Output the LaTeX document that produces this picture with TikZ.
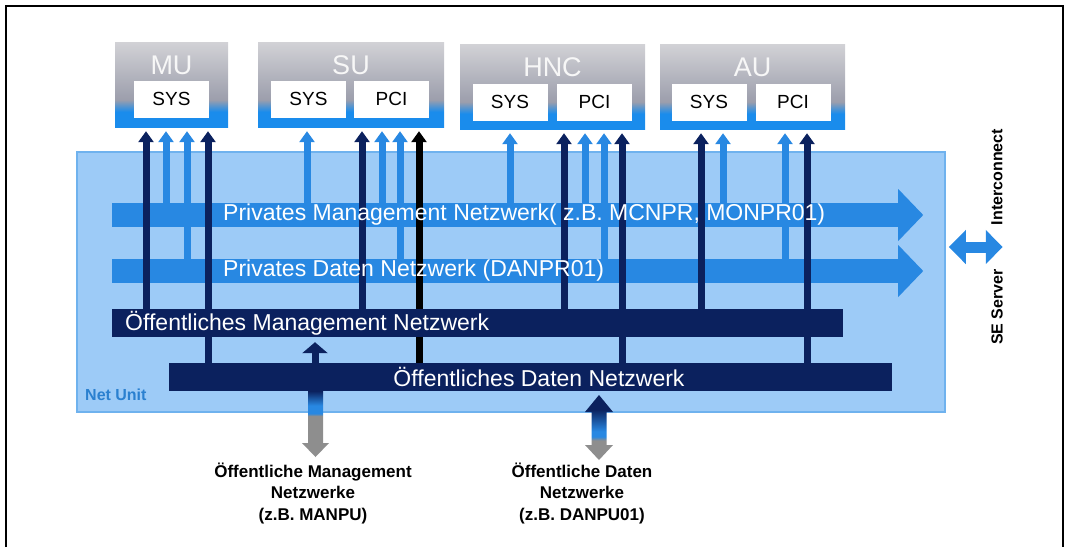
\documentclass[tikz,border=0pt]{standalone}
\usepackage{fontspec}
\setmainfont{Liberation Sans}
\usetikzlibrary{arrows.meta}

\definecolor{netfill}{HTML}{9DCBF7}
\definecolor{netline}{HTML}{6FB2EE}
\definecolor{bandblue}{HTML}{2888E2}
\definecolor{navy}{HTML}{0B215E}
\definecolor{unitblue}{HTML}{1A8CEC}
\definecolor{unitgray}{HTML}{9C9EAC}
\definecolor{unitlight}{HTML}{D2D2D6}
\definecolor{dropgray}{HTML}{8E8E8E}
\definecolor{labelblue}{HTML}{2A80D0}

\pgfdeclareverticalshading{unitshade}{100bp}{color(0bp)=(unitblue); color(34bp)=(unitblue); color(41bp)=(unitgray); color(75bp)=(unitlight); color(100bp)=(unitlight)}
\pgfdeclareverticalshading{mgmtdrop}{100bp}{color(0bp)=(dropgray); color(56bp)=(dropgray); color(58bp)=(bandblue); color(64bp)=(bandblue); color(75bp)=(navy); color(100bp)=(navy)}
\pgfdeclareverticalshading{datadrop}{100bp}{color(0bp)=(dropgray); color(40bp)=(dropgray); color(43bp)=(bandblue); color(47bp)=(bandblue); color(64bp)=(navy); color(100bp)=(navy)}

\pgfdeclarelayer{front}
\pgfsetlayers{main,front}

\tikzset{
  unit/.style={shade, shading=unitshade, minimum height=85pt, inner sep=0pt},
  title/.style={text=white!94!gray, font=\fontsize{27}{30}\selectfont, inner sep=0pt},
  card/.style={fill=white, minimum width=75pt, minimum height=37pt, inner sep=0pt, font=\fontsize{19}{22}\selectfont},
  band/.style={fill=bandblue, minimum width=786pt, minimum height=24pt, inner sep=0pt},
  bar/.style={fill=navy, minimum height=28pt, inner sep=0pt},
  bandtext/.style={text=white, font=\fontsize{23}{26}\selectfont, inner sep=0pt},
  link/.style={line width=7pt, -{Triangle[width=15pt,length=11pt]}, shorten >=4pt},
  netlabel/.style={font=\bfseries\fontsize{17}{21.5}\selectfont, align=center, inner sep=0pt},
  sidetext/.style={font=\bfseries\fontsize{16}{18}\selectfont, rotate=90, inner sep=0pt}
}

\begin{document}
\begin{tikzpicture}[x=1pt,y=-1pt]
\useasboundingbox (0,0) rectangle (1066,547);
\draw[line width=2pt] (6,547) -- (6,6) -- (1063,6) -- (1063,547);

\node[fill=netfill, draw=netline, line width=1.5pt, minimum width=868pt, minimum height=260pt, inner sep=0pt] (netunit) at (511,282) {};
\node[anchor=west, text=labelblue, font=\bfseries\fontsize{16}{18}\selectfont, inner sep=0pt] (netname) at (85,395) {Net Unit};

\node[unit, minimum width=113pt] (mu) at (171.5,84.5) {};
\node[unit, minimum width=186pt] (su) at (351,84.5) {};
\node[unit, minimum width=185pt] (hnc) at (552.5,86.5) {};
\node[unit, minimum width=185pt] (au) at (752.5,86.5) {};
\node[title] (mu-t) at (171.5,65) {MU};
\node[title] (su-t) at (351,65) {SU};
\node[title] (hnc-t) at (552.5,67) {HNC};
\node[title] (au-t) at (752.5,67) {AU};
\node[card] (mu-sys) at (171.5,99) {SYS};
\node[card] (su-sys) at (308.5,99) {SYS};
\node[card] (su-pci) at (391.5,99) {PCI};
\node[card] (hnc-sys) at (510,102) {SYS};
\node[card] (hnc-pci) at (594.5,102) {PCI};
\node[card] (au-sys) at (709,102) {SYS};
\node[card] (au-pci) at (793,102) {PCI};

\node[band] (pmgmt) at (505,215) {};
\fill[bandblue] (pmgmt.east) ++(0,-26) -- ++(25,26) -- ++(-25,26) -- cycle;
\node[band] (pdaten) at (505,271) {};
\fill[bandblue] (pdaten.east) ++(0,-26) -- ++(25,26) -- ++(-25,26) -- cycle;

\begin{pgfonlayer}{front}
\node[bandtext, anchor=west] (pmgmt-t) at (223,215) {Privates Management Netzwerk( z.B. MCNPR, MONPR01)};
\node[bandtext, anchor=west] (pdaten-t) at (223,271) {Privates Daten Netzwerk (DANPR01)};
\node[bar, minimum width=731pt] (omgmt) at (477.5,323) {};
\node[bandtext, anchor=west] (omgmt-t) at (125,323) {Öffentliches Management Netzwerk};
\node[bar, minimum width=723pt] (odaten) at (530.5,377) {};
\node[bandtext] (odaten-t) at (539,377) {Öffentliches Daten Netzwerk};
\draw[navy, line width=7pt, -{Triangle[width=25pt,length=11pt]}, shorten >=5pt] (315,0 |- odaten.center) -- (315,0 |- omgmt.south);
\end{pgfonlayer}

\foreach \x/\net/\col/\unit in {146/omgmt/navy/mu, 166/pmgmt/bandblue/mu, 187/pdaten/bandblue/mu, 208/odaten/navy/mu,
  307/pmgmt/bandblue/su, 362/omgmt/navy/su, 382/pmgmt/bandblue/su, 400/pdaten/bandblue/su, 419/odaten/black/su,
  510/pmgmt/bandblue/hnc, 564/omgmt/navy/hnc, 585/pmgmt/bandblue/hnc, 604/pdaten/bandblue/hnc, 622/odaten/navy/hnc,
  701/omgmt/navy/au, 723/pmgmt/bandblue/au, 785/pdaten/bandblue/au, 807/odaten/navy/au}
  \draw[link, \col] (\x,0 |- \net.center) -- (\x,0 |- \unit.south);

\shade[shading=mgmtdrop] (308,391) -- (323,391) -- (323,443) -- (329,443) -- (315.5,457) -- (302,443) -- (308,443) -- cycle;
\shade[shading=datadrop] (599,395) -- (613,412) -- (606.5,412) -- (606.5,445) -- (613,445) -- (599,460) -- (585,445) -- (591.5,445) -- (591.5,412) -- (585,412) -- cycle;

\node[netlabel] (mlabel) at (313,493) {Öffentliche Management\\Netzwerke\\(z.B. MANPU)};
\node[netlabel] (dlabel) at (582,493) {Öffentliche Daten\\Netzwerke\\(z.B. DANPU01)};

\draw[bandblue, line width=11pt, {Triangle[width=33pt,length=17pt]}-{Triangle[width=33pt,length=17pt]}] ([xshift=3pt]netunit.east |- 0,247) -- ++(54,0);
\node[sidetext] (inter) at (997,177) {Interconnect};
\node[sidetext] (server) at (997,307) {SE Server};
\end{tikzpicture}
\end{document}
